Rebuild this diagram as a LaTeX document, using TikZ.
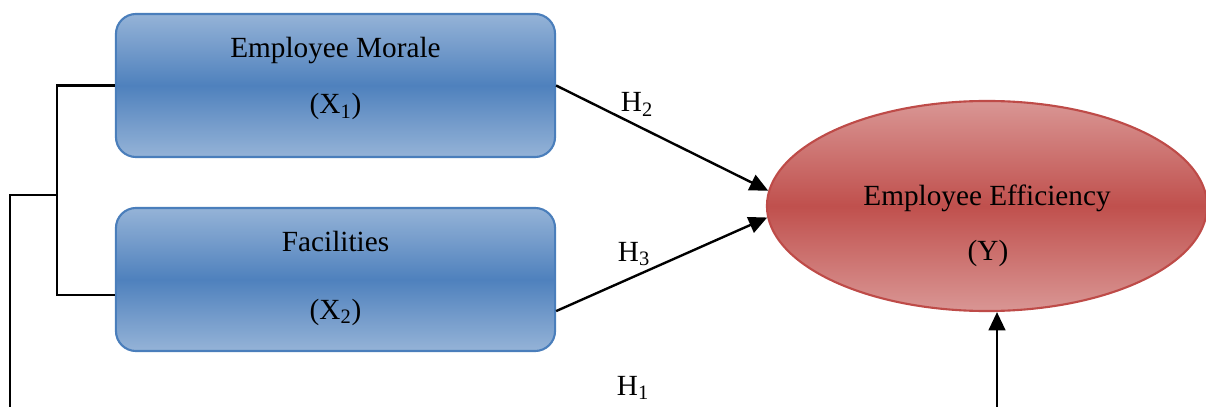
\documentclass[tikz,border=0pt]{standalone}
\usepackage{fontspec}
\setmainfont{Liberation Serif}
\usetikzlibrary{shapes,arrows.meta}
\definecolor{boxlight}{HTML}{95B3D7}
\definecolor{boxdark}{HTML}{4F81BD}
\definecolor{boxline}{HTML}{4A7EBB}
\definecolor{ovallight}{HTML}{D99694}
\definecolor{ovaldark}{HTML}{C0504D}
\definecolor{ovalline}{HTML}{BE4B48}

\begin{document}
\begin{tikzpicture}[
    x=0.025cm, y=-0.025cm,
    font=\fontsize{20.8}{25}\selectfont,
    varbox/.style = {rectangle, rounded corners=0.5cm, draw=boxline,
                line width=1.5pt, top color=boxlight, bottom color=boxlight,
                middle color=boxdark, minimum width=10.975cm,
                minimum height=3.575cm, inner sep=0pt},
    oval/.style = {ellipse, draw=ovalline, line width=1.5pt,
                top color=ovallight, bottom color=ovallight,
                middle color=ovaldark, minimum width=11cm,
                minimum height=5.25cm, inner sep=0pt},
    txt/.style = {anchor=base, inner sep=0pt},
    line/.style = {black, line width=1.7pt},
    arr/.style = {line, -{Triangle[length=0.46cm, width=0.42cm]}}
                    ]
    \useasboundingbox (0,0) rectangle (1206,407);
    \def\bx{335.5}
    \def\ex{987}
    % boxes and oval
    \node[varbox] at (\bx,85.5) (mor) {};
    \node[varbox] at (\bx,279.5) (fac) {};
    \node[oval] at (\ex,206) (eff) {};
    % texts
    \node[txt] at (\bx,57.5) (mor1) {Employee Morale};
    \node[txt] at (\bx,114) (mor2) {(X\textsubscript{1})};
    \node[txt] at (\bx,251.5) (fac1) {Facilities};
    \node[txt] at (\bx,319) (fac2) {(X\textsubscript{2})};
    \node[txt] at (\ex,205) (eff1) {Employee Efficiency};
    \node[txt] at (\ex+1,260.5) (eff2) {(Y)};
    \node[txt] at (637,112) (h2) {H\textsubscript{2}};
    \node[txt] at (634,261) (h3) {H\textsubscript{3}};
    \node[txt] at (633,395) (h1) {H\textsubscript{1}};
    % bracket on the left
    \coordinate (jt) at (57,195);
    \coordinate (jl) at (10,195);
    \coordinate (jb) at (10,407);
    \coordinate (yin) at (997,407);
    \draw[line] (mor.west) -| (jt) |- ([yshift=-0.39cm]fac.west);
    \draw[line] (jt) -- (jl) -- (jb);
    % arrows
    \draw[arr] (mor.east) -- (eff.176.6);
    \draw[arr] ([yshift=-0.79cm]fac.east) -- (eff.183.4);
    \draw[arr] (yin) -- (yin |- eff.south);
\end{tikzpicture}
\end{document}
